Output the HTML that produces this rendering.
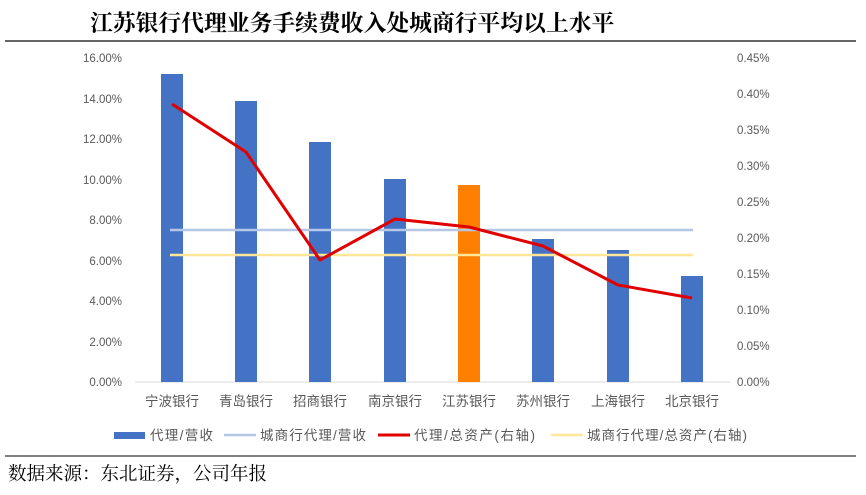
<!DOCTYPE html>
<html><head><meta charset="utf-8"><style>
html,body{margin:0;padding:0;background:#fff;width:866px;height:495px;overflow:hidden}
</style></head><body>
<svg width="866" height="495" xmlns="http://www.w3.org/2000/svg">
<text x="90" y="31" font-family="'Noto Serif CJK SC',serif" font-weight="bold" font-size="22.8" fill="#000">江苏银行代理业务手续费收入处城商行平均以上水平</text>
<line x1="5" y1="41" x2="856" y2="41" stroke="#333" stroke-width="1.5"/>
<g font-family="'Liberation Sans',sans-serif" font-size="11.5" fill="#595959">
<text x="122" y="62" text-anchor="end">16.00%</text>
<text x="122" y="103" text-anchor="end">14.00%</text>
<text x="122" y="143" text-anchor="end">12.00%</text>
<text x="122" y="184" text-anchor="end">10.00%</text>
<text x="122" y="224" text-anchor="end">8.00%</text>
<text x="122" y="265" text-anchor="end">6.00%</text>
<text x="122" y="305" text-anchor="end">4.00%</text>
<text x="122" y="346" text-anchor="end">2.00%</text>
<text x="122" y="386" text-anchor="end">0.00%</text>
<text x="737" y="62">0.45%</text>
<text x="737" y="98">0.40%</text>
<text x="737" y="134">0.35%</text>
<text x="737" y="170">0.30%</text>
<text x="737" y="206">0.25%</text>
<text x="737" y="242">0.20%</text>
<text x="737" y="278">0.15%</text>
<text x="737" y="314">0.10%</text>
<text x="737" y="350">0.05%</text>
<text x="737" y="386">0.00%</text>
</g>
<line x1="135" y1="382" x2="730" y2="382" stroke="#d9d9d9"/>
<g fill="#4472c4">
<rect x="161" y="74" width="22" height="308"/>
<rect x="235" y="101" width="22" height="281"/>
<rect x="309" y="142" width="22" height="240"/>
<rect x="384" y="179" width="22" height="203"/>
<rect x="458" y="185" width="22" height="197" fill="#ff7f00"/>
<rect x="532" y="239" width="22" height="143"/>
<rect x="607" y="250" width="22" height="132"/>
<rect x="681" y="276" width="22" height="106"/>
</g>
<line x1="170" y1="230" x2="693" y2="230" stroke="#b4c7e7" stroke-width="2.5"/>
<line x1="170" y1="255" x2="693" y2="255" stroke="#ffe699" stroke-width="2.5"/>
<polyline points="172,104 246,152 320,260 395,219 469,227 543,246 618,285 692,298" fill="none" stroke="#e00000" stroke-width="3" stroke-linejoin="round"/>
<g font-family="'Liberation Sans','Noto Sans CJK SC',sans-serif" font-size="13.5" fill="#595959" text-anchor="middle">
<text x="172" y="406">宁波银行</text>
<text x="246" y="406">青岛银行</text>
<text x="320" y="406">招商银行</text>
<text x="395" y="406">南京银行</text>
<text x="469" y="406">江苏银行</text>
<text x="543" y="406">苏州银行</text>
<text x="618" y="406">上海银行</text>
<text x="692" y="406">北京银行</text>
</g>
<g font-family="'Liberation Sans','Noto Sans CJK SC',sans-serif" font-size="13.5" fill="#595959">
<rect x="114" y="432" width="31" height="7" fill="#4472c4"/>
<text x="150" y="440" textLength="63">代理/营收</text>
<line x1="224" y1="435" x2="256" y2="435" stroke="#b4c7e7" stroke-width="2.5"/>
<text x="260" y="440" textLength="106">城商行代理/营收</text>
<line x1="378" y1="435" x2="410" y2="435" stroke="#e00000" stroke-width="3"/>
<text x="414" y="440" textLength="121">代理/总资产(右轴)</text>
<line x1="551" y1="435" x2="583" y2="435" stroke="#ffe699" stroke-width="2.5"/>
<text x="587" y="440" textLength="160">城商行代理/总资产(右轴)</text>
</g>
<line x1="5" y1="456" x2="856" y2="456" stroke="#333" stroke-width="1.2"/>
<text x="8" y="480" font-family="'Noto Serif CJK SC',serif" font-size="18.5" fill="#000">数据来源：东北证券，公司年报</text>
</svg>
</body></html>
